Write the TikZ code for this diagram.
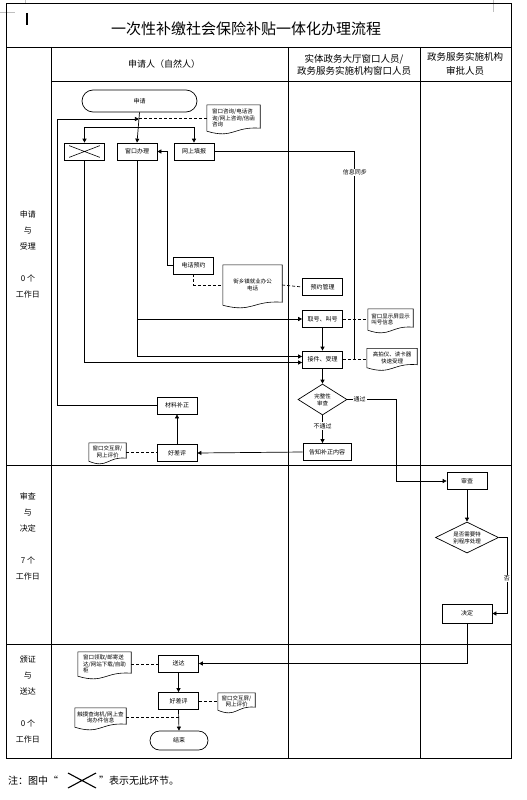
\documentclass[tikz,border=0pt]{standalone}
\usepackage{fontspec}
\setmainfont{Noto Sans CJK SC}
\usetikzlibrary{arrows.meta,shapes.geometric,calc}

\begin{document}
\begin{tikzpicture}[x=1pt, y=-1pt,
  box/.style={draw, line width=0.7pt, minimum width=40pt, minimum height=17pt, inner sep=1pt, font=\fontsize{6}{7}\selectfont},
  stadium/.style={box, rounded corners=9pt},
  check/.style={draw, diamond, aspect=2, line width=0.7pt, inner sep=0pt, align=center, font=\fontsize{5.5}{7}\selectfont},
  docnote/.style={inner sep=1pt, font=\fontsize{5.5}{6.5}\selectfont},
  flow/.style={line width=0.7pt, -{Triangle[length=4pt, width=4pt]}},
  link/.style={line width=0.7pt},
  dlink/.style={line width=0.7pt, dash pattern=on 3pt off 2pt},
  tag/.style={fill=white, inner sep=1pt, font=\fontsize{6}{7}\selectfont},
  frame/.style={line width=0.9pt},
  stage/.style={align=center, font=\fontsize{8}{16}\selectfont},
  head/.style={align=center, font=\fontsize{9}{12}\selectfont}
]
  \useasboundingbox (0,0) rectangle (527,800);

  % Page marks
  \draw[gray!50, line width=0.5pt] (0,12) -- (15,12) (25,0) -- (25,3) (493,0) -- (493,12);
  \draw[line width=1.2pt] (27,13) -- (27,25);

  % Table frame
  \draw[frame] (6,3) rectangle (511,758);
  \draw[frame] (6,47) -- (511,47);
  \draw[frame] (51,81) -- (511,81);
  \draw[frame] (6,465) -- (511,465) (6,644) -- (511,644);
  \foreach \x in {51,288,420} \draw[frame] (\x,47) -- (\x,758);

  % Title and column heads
  \node[font=\fontsize{15}{18}\selectfont] (title) at (246,29) {一次性补缴社会保险补贴一体化办理流程};
  \node[head] (hsqr) at (164,64) {申请人（自然人）};
  \node[head, font=\fontsize{9.5}{12}\selectfont] (hck) at (354,65) {实体政务大厅窗口人员/\\政务服务实施机构窗口人员};
  \node[head, font=\fontsize{9.5}{14}\selectfont] (hsp) at (465,64) {政务服务实施机构\\审批人员};

  % Stage labels
  \node[stage] (st1) at (28,254) {申请\\与\\受理\\~\\0 个\\工作日};
  \node[stage] (st2) at (28,536) {审查\\与\\决定\\~\\7 个\\工作日};
  \node[stage] (st3) at (28,699) {颁证\\与\\送达\\~\\0 个\\工作日};

  % Apply and accept
  \node[stadium, minimum width=115pt, minimum height=22pt, rounded corners=11pt] (sq) at (139.5,101) {申请};
  \node[docnote, minimum width=53pt, minimum height=26pt, align=left] (doczx) at (233.5,118) {窗口咨询/电话咨\\询/网上咨询/信函\\咨询};
  \node[box] (wu) at (84.5,151.5) {};
  \node[box] (ckbl) at (137,151.5) {窗口办理};
  \node[box] (wstb) at (194,151.5) {网上填报};
  \node[box] (dhyy) at (193.5,265.5) {电话预约};
  \node[docnote, minimum width=59pt, minimum height=40pt, align=center] (docdh) at (252.5,285) {街乡镇就业办公\\电话};
  \node[box] (yygl) at (322.5,287) {预约管理};
  \node[box] (qh) at (322.5,319) {取号、叫号};
  \node[box] (sl) at (322.5,359.5) {接件、受理};
  \node[docnote, minimum width=45pt, minimum height=21pt, align=left] (docjh) at (390.5,319.5) {窗口显示屏显示\\叫号信息};
  \node[docnote, minimum width=50pt, minimum height=19pt, align=center] (docgp) at (392,358) {高拍仪、读卡器\\快速受理};
  \node[check, minimum width=49pt, minimum height=31pt] (wz) at (322.5,399.5) {完整性\\审查};
  \node[box, minimum width=48pt] (gz) at (327,452) {告知补正内容};
  \node[box] (hcp) at (177,453) {好差评};
  \node[box] (clbz) at (177,405.5) {材料补正};
  \node[docnote, minimum width=37pt, minimum height=18pt, align=center] (docpj) at (107.5,452) {窗口交互屏/\\网上评价};

  % Review and decide
  \node[box] (sc) at (467,481) {审查};
  \node[check, minimum width=63pt, minimum height=31pt] (sf) at (467,537.5) {是否需要特\\别程序处理};
  \node[box, minimum width=50pt, minimum height=19pt] (jd) at (467,613.5) {决定};

  % Issue and deliver
  \node[box] (sd) at (178.5,663.5) {送达};
  \node[box] (hcp2) at (178.5,701) {好差评};
  \node[stadium, minimum width=58pt, minimum height=19pt, rounded corners=9.5pt] (js) at (179,740.5) {结束};
  \node[docnote, minimum width=53pt, minimum height=24pt, align=left] (docld) at (104.5,664) {窗口领取/邮寄送\\达/网站下载/自助\\柜};
  \node[docnote, minimum width=37pt, minimum height=17pt, align=center] (docpk) at (236.5,701.5) {窗口交互屏/\\网上评价};
  \node[docnote, minimum width=51pt, minimum height=19pt, align=center] (doccx) at (100.5,717.5) {触摸查询机/网上查\\询办件信息};

  % Document outlines
  \foreach \d in {doczx,docdh,docjh,docgp,docpj,docld,docpk,doccx}{
    \draw[line width=0.6pt] (\d.south west) -- (\d.north west) -- (\d.north east) -- ([yshift=3pt]\d.south east)
      .. controls ([yshift=5pt]\d.south) and ([yshift=-8pt]\d.south) .. cycle;
  }

  % Cross = no such step
  \draw[line width=0.6pt] ([shift={(5pt,-3pt)}]wu.north west) -- ([shift={(-5pt,3pt)}]wu.south east)
    ([shift={(5pt,3pt)}]wu.south west) -- ([shift={(-5pt,-3pt)}]wu.north east);

  % Connectors, apply and accept
  \coordinate (fz) at ($(sq.south)!0.5!(ckbl.north)$);
  \coordinate (hb) at ($(sq.south)!0.22!(ckbl.north)$);
  \coordinate (gpl) at (sl.east -| docgp.west);
  \draw[flow] (sq.south) -- (ckbl.north);
  \draw[flow] (fz) -| (wu.north);
  \draw[flow] (fz) -| (wstb.north);
  \draw[dlink] (doczx.west) -- (doczx.west -| hb);
  \draw[flow] (clbz.west) -- ++(-99,0) |- (hb);
  \draw[flow] (dhyy.west) -- ++(-6,0) |- (ckbl.east);
  \draw[flow] (ckbl.south) |- (qh.west);
  \draw[flow] (ckbl.south) |- ([yshift=3pt]sl.west);
  \draw[flow] (wu.south) |- ([yshift=-3pt]sl.west);
  \draw[dlink] (dhyy.south) |- (docdh.west);
  \draw[dlink] (docdh.east) -- (yygl.west);
  \draw[dlink] (qh.east) -- (qh.east -| docjh.west);
  \draw[dlink] (sl.east) -- (gpl);
  \draw[link] (wstb.east) -| node[tag, pos=0.55] {信息同步} ($(sl.east)!0.5!(gpl)$);
  \draw[flow] (qh.south) -- (sl.north);
  \draw[flow] (sl.south) -- (wz.north);
  \draw[flow] (wz.east) -- node[tag, pos=0.25] {通过} ++(49,0) |- (sc.west);
  \draw[flow] (wz.south) -- node[tag, pos=0.38] {不通过} (wz.south |- gz.north);
  \draw[flow] (gz.west) -- (hcp.east);
  \draw[dlink] (docpj.east) -- (docpj.east -| hcp.west);
  \draw[flow] (hcp.north) -- (clbz.south);

  % Connectors, review and decide
  \draw[flow] (sc.south) -- (sf.north);
  \draw[flow] (sf.east) -- ++(8,0) |- node[tag, pos=0.27] {否} (jd.east);
  \draw[flow] (jd.south) |- (sd.east);

  % Connectors, issue and deliver
  \draw[dlink] (docld.east) -- (docld.east -| sd.west);
  \draw[flow] (sd.south) -- (hcp2.north);
  \draw[dlink] (hcp2.east) -- (hcp2.east -| docpk.west);
  \draw[flow] (hcp2.south) -- (js.north);
  \draw[dlink] (doccx.east) -- (doccx.east -| hcp2.south);

  % Footnote
  \node[anchor=west, font=\fontsize{10}{12}\selectfont, inner sep=0pt] (zhu) at (8,781) {注：图中“};
  \node[anchor=west, font=\fontsize{10}{12}\selectfont, inner sep=0pt] (zhu2) at (99,781) {”表示无此环节。};
  \draw[line width=1.1pt] (68,773) -- (96,788) (68,788) -- (96,773);
\end{tikzpicture}
\end{document}
